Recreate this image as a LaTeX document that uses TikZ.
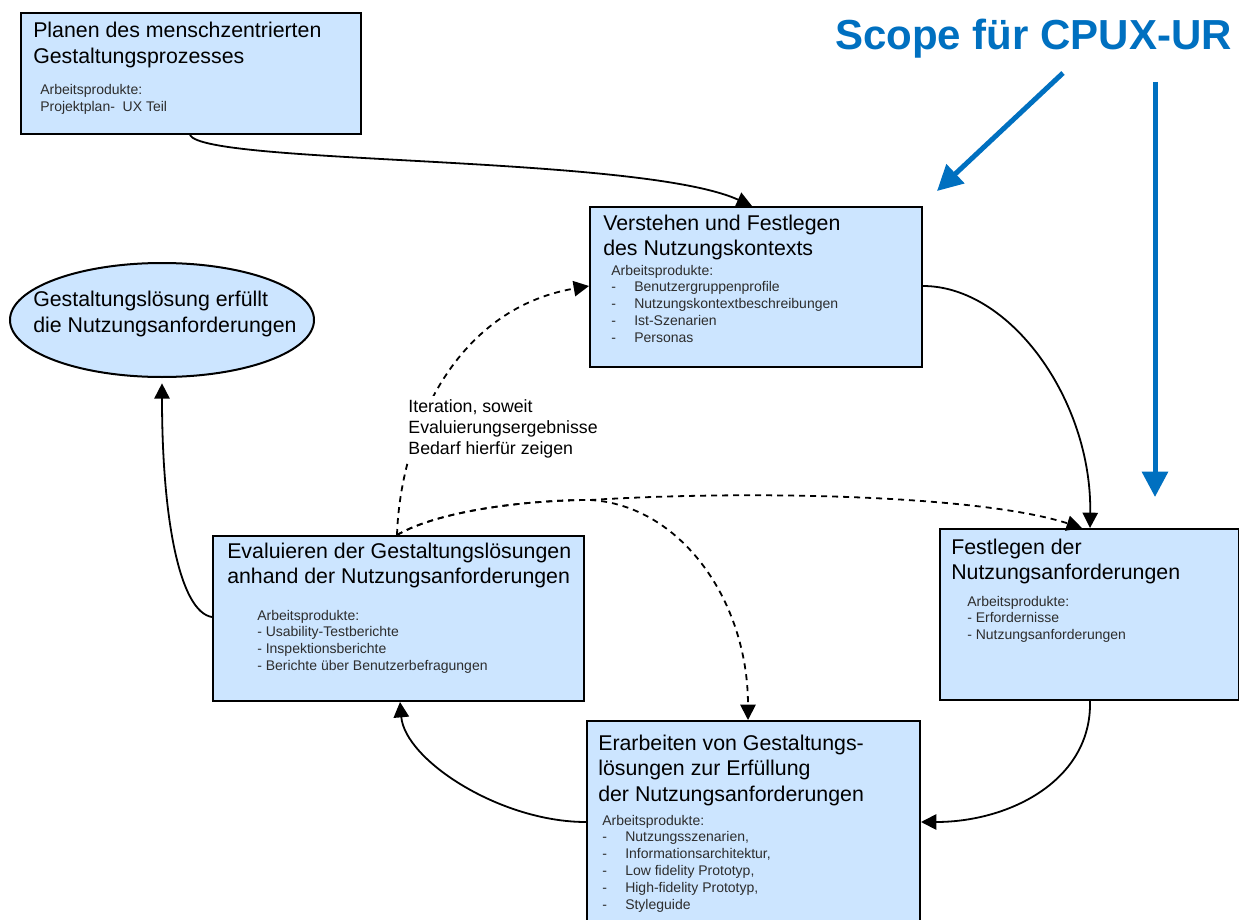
\documentclass[tikz,border=0pt]{standalone}
\usepackage{fontspec}
\setmainfont{Liberation Sans}
\usetikzlibrary{arrows.meta,calc,shapes.geometric}
\definecolor{boxfill}{RGB}{204,229,255}
\definecolor{scopeblue}{RGB}{0,112,192}
\definecolor{smallgray}{RGB}{45,45,45}
\newcommand{\dashitem}[1]{\makebox[17.25pt][l]{-}#1}
\begin{document}
\begin{tikzpicture}[x=0.75pt,y=-0.75pt,
  box/.style={draw=black, line width=1.5pt, fill=boxfill, rectangle, inner sep=0pt, anchor=north west},
  ttl/.style={anchor=base west, inner sep=0pt, align=left, font=\fontsize{16}{19.2}\selectfont},
  sml/.style={anchor=base west, inner sep=0pt, align=left, text=smallgray, font=\fontsize{10.5}{12.6}\selectfont},
  conn/.style={line width=1.35pt, -{Triangle[length=11.5pt,width=11.5pt]}},
  dconn/.style={conn, dash pattern=on 4.5pt off 3.75pt},
  bluearrow/.style={draw=scopeblue, line width=3.75pt, -{Triangle[length=19pt,width=19pt]}}
]
\useasboundingbox (0,0) rectangle (1239,920);
\clip (0,0) rectangle (1239,920);
\fill[white] (0,0) rectangle (1239,920);

% boxes
\node[box, minimum width=255pt, minimum height=90.75pt] (plan) at (20,12) {};
\node[box, minimum width=249pt, minimum height=120pt] (vers) at (589,206) {};
\node[box, minimum width=278.25pt, minimum height=123.75pt] (eval) at (212,535) {};
\node[box, minimum width=224.25pt, minimum height=128.25pt] (fest) at (939,528) {};
\node[box, minimum width=249.75pt, minimum height=157.5pt] (erar) at (586,720) {};
\node[ellipse, draw=black, line width=1.5pt, fill=boxfill, minimum width=228pt, minimum height=85.5pt, inner sep=0pt] (goal) at (162,320) {};

% texts (anchor = baseline of the last line)
\node[ttl] (planT) at (33,63.6) {Planen des menschzentrierten\\Gestaltungsprozesses};
\node[sml] (planS) at (40,111.8) {Arbeitsprodukte:\\Projektplan-\ \ UX Teil};

\node[ttl] (versT) at (603,255.6) {Verstehen und Festlegen\\des Nutzungskontexts};
\node[sml] (versS) at (611,342.2) {Arbeitsprodukte:\\\dashitem{Benutzergruppenprofile}\\\dashitem{Nutzungskontextbeschreibungen}\\\dashitem{Ist-Szenarien}\\\dashitem{Personas}};

\node[ttl] (goalT) at (33,332) {Gestaltungslösung erfüllt\\die Nutzungsanforderungen};

\node[ttl] (evalT) at (227,583.6) {Evaluieren der Gestaltungslösungen\\anhand der Nutzungsanforderungen};
\node[sml] (evalS) at (257,670.4) {Arbeitsprodukte:\\- Usability-Testberichte\\- Inspektionsberichte\\- Berichte über Benutzerbefragungen};

\node[ttl] (festT) at (951,579.6) {Festlegen der\\Nutzungsanforderungen};
\node[sml] (festS) at (967,639.6) {Arbeitsprodukte:\\- Erfordernisse\\- Nutzungsanforderungen};

\node[ttl] (erarT) at (598,801.2) {Erarbeiten von Gestaltungs-\\lösungen zur Erfüllung\\der Nutzungsanforderungen};
\node[sml] (erarS) at (602,909) {Arbeitsprodukte:\\\dashitem{Nutzungsszenarien,}\\\dashitem{Informationsarchitektur,}\\\dashitem{Low fidelity Prototyp,}\\\dashitem{High-fidelity Prototyp,}\\\dashitem{Styleguide}};

% solid connectors
\draw[conn] ($(plan.south west)+(170,0)$) .. controls (205,165) and (640,155) .. ($(vers.north west)+(163,0)$);
\draw[conn] ($(vers.north east)+(0,80)$) .. controls (1010,286) and (1092,400) .. ($(fest.north west)+(151,0)$);
\draw[conn] ($(fest.south west)+(151,0)$) .. controls (1092,780) and (1010,822) .. ($(erar.north east)+(0,102)$);
\draw[conn] ($(erar.north west)+(0,102)$) .. controls (500,822) and (405,760) .. ($(eval.south west)+(188,0)$);
\draw[conn, shorten >=4pt] ($(eval.north west)+(0,82)$) .. controls (180,612) and (162,520) .. (goal.south);

% dashed connectors
\coordinate (branch) at (590,500);
\draw[dconn] ($(eval.north west)+(185,0)$) .. controls (400,440) and (450,310) .. ($(vers.north west)+(0,80)$);
\draw[dconn] ($(eval.north west)+(185,0)$) .. controls (440,510) and (530,500) .. (branch) .. controls (750,490) and (980,495) .. ($(fest.north west)+(143,0)$);
\draw[dconn] ($(eval.north west)+(185,0)$) .. controls (440,510) and (530,500) .. (branch) .. controls (680,505) and (748,600) .. ($(erar.north west)+(162,0)$);

\node[anchor=base west, inner sep=2pt, fill=white, align=left, font=\fontsize{13.3}{15.9}\selectfont] (iter) at (405.5,454.4) {Iteration, soweit\\Evaluierungsergebnisse\\Bedarf hierfür zeigen};

% scope
\node[anchor=base west, inner sep=0pt, text=scopeblue, font=\fontsize{31.5}{36}\selectfont\bfseries] (scope) at (835,50) {Scope für CPUX-UR};
\coordinate (s1end) at (937,191);
\coordinate (s2end) at (1155,497);
\draw[bluearrow] ($(scope.base west)+(228,23)$) -- (s1end);
\draw[bluearrow] ($(scope.base west)+(320,32)$) -- (s2end);
\end{tikzpicture}
\end{document}
